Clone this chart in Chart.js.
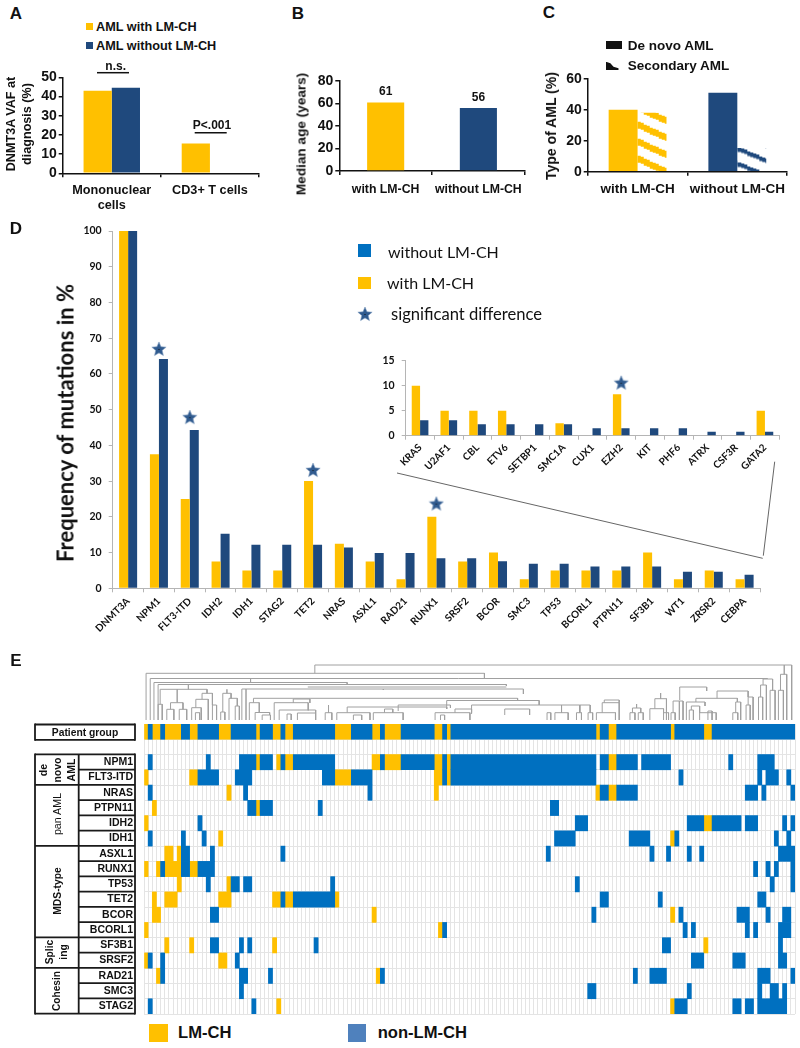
<!DOCTYPE html>
<html>
<head>
<meta charset="utf-8">
<title>LM-CH figure</title>
<script src="https://cdn.jsdelivr.net/npm/chart.js@4"></script>
<style>
  html, body { margin: 0; padding: 0; background: #fff; }
  #page { position: relative; width: 800px; height: 1048px; overflow: hidden; }
  #page canvas { position: absolute; }
  .txt { position: absolute; white-space: nowrap; color: #111; line-height: 1; }
  .box { position: absolute; }
  #overlay { position: absolute; left: 0; top: 0; }
</style>
</head>
<body>
<div id="page">
  <svg id="overlay" width="800" height="1048"></svg>
</div>
<script>
const ORANGE = '#FFC000'
const NAVY = '#1F497D'
const BLUE = '#0070C0'
const ARIAL = '"Liberation Sans"'
const LATO = 'Lato'

// panel A
const vafCats = [['Mononuclear', 'cells'], 'CD3+ T cells']
const vafWith = [43, 15.5]
const vafWithout = [44.6, null]
// panel B
const ageCats = ['with LM-CH', 'without LM-CH']
const ageVals = [61, 56]
// panel C
const typeCats = ['with LM-CH', 'without LM-CH']
const typeDeNovo = [40, 51]
const typeSecondary = [38, 15.3]
// panel D main
const geneCats = ['DNMT3A','NPM1','FLT3-ITD','IDH2','IDH1','STAG2','TET2','NRAS','ASXL1','RAD21','RUNX1','SRSF2','BCOR','SMC3','TP53','BCORL1','PTPN11','SF3B1','WT1','ZRSR2','CEBPA']
const geneWith = [100,37.5,25,7.5,5,5,30,12.5,7.5,2.5,20,7.5,10,2.5,5,5,5,10,2.5,5,2.5]
const geneWithout = [100,64.2,44.3,15.3,12.2,12.2,12.2,11.4,9.9,9.9,8.4,8.4,7.6,6.9,6.9,6.1,6.1,6.1,4.6,4.6,3.8]
const geneStars = [null,67,47.9,null,null,null,33.1,null,null,null,23.7,null,null,null,null,null,null,null,null,null,null]
// panel D inset
const insetCats = ['KRAS','U2AF1','CBL','ETV6','SETBP1','SMC1A','CUX1','EZH2','KIT','PHF6','ATRX','CSF3R','GATA2']
const insetWith = [10,5,5,5,null,2.5,null,8.3,null,null,null,null,5]
const insetWithout = [3.1,3.1,2.3,2.3,2.3,2.3,1.5,1.5,1.5,1.5,0.8,0.8,0.8]
const insetStars = [null,null,null,null,null,null,null,10.6,null,null,null,null,null]

// panel E, runs of patients [from, to] per row
const groupBlue = [[1,2],[4,5],[9,11],[13,18],[21,27],[28,31],[33,34],[36,46],[50,55],[57,58],[62,70],[72,73],[74,109],[110,112],[114,127],[128,135],[137,157]]
const groupOrange = [[0,1],[2,4],[5,9],[11,13],[18,21],[27,28],[31,33],[34,36],[46,50],[55,57],[58,62],[70,72],[73,74],[109,110],[112,114],[127,128],[135,137]]
const npm1Blue = [[1,2],[15,16],[23,27],[28,31],[33,34],[36,46],[57,58],[62,70],[72,73],[74,109],[110,112],[114,119],[120,127],[141,142],[148,152]]
const npm1Orange = [[27,28],[32,33],[34,36],[55,57],[58,62],[70,72],[73,74],[112,114]]
const flt3Blue = [[13,18],[22,26],[43,46],[50,55],[72,73],[74,109],[129,130],[148,149],[150,153],[155,156]]
const flt3Orange = [[0,1],[11,13],[46,50],[70,72],[73,74]]
const nrasBlue = [[1,2],[24,25],[54,55],[110,112],[114,119],[145,148],[149,150],[156,157]]
const nrasOrange = [[20,21],[70,71],[109,110],[112,114]]
const ptpn11Blue = [[25,27],[28,31],[42,43],[98,100]]
const ptpn11Orange = [[2,3],[27,28]]
const idh2Blue = [[13,14],[104,107],[131,135],[137,144],[145,148],[154,155],[156,157]]
const idh2Orange = [[0,1],[135,137]]
const idh1Blue = [[1,2],[9,10],[14,15],[99,104],[117,122],[128,129],[152,153],[155,156]]
const idh1Orange = [[18,19],[127,128]]
const asxl1Blue = [[9,11],[16,17],[33,34],[97,98],[122,123],[126,127],[131,132],[134,135],[153,157]]
const asxl1Orange = [[5,7],[8,9]]
const runx1Blue = [[4,5],[9,11],[13,17],[147,148],[150,151],[152,153],[156,157]]
const runx1Orange = [[0,1],[3,4],[5,9],[11,13]]
const tp53Blue = [[15,16],[21,23],[24,26],[45,46],[104,105],[151,152],[156,157]]
const tp53Orange = [[8,9],[20,21]]
const tet2Blue = [[33,34],[36,46],[110,112],[124,125],[148,150]]
const tet2Orange = [[2,3],[5,8],[18,21],[31,33],[34,36],[46,47]]
const bcorBlue = [[16,18],[108,109],[129,130],[143,146],[150,151],[154,156]]
const bcorOrange = [[2,4],[55,56],[127,128]]
const bcorl1Blue = [[72,73],[130,131],[132,133],[145,146],[147,148],[153,156]]
const bcorl1Orange = [[0,1],[71,72]]
const sf3b1Blue = [[16,18],[23,24],[25,26],[41,42],[125,127],[153,154]]
const sf3b1Orange = [[5,6],[11,12],[31,32],[135,136]]
const srsf2Blue = [[1,2],[4,5],[22,23],[132,135],[142,145],[153,155]]
const srsf2Orange = [[0,1],[18,20]]
const rad21Blue = [[4,5],[23,25],[30,31],[57,58],[118,119],[122,126],[148,151],[156,157]]
const rad21Orange = [[3,4],[56,57]]
const smc3Blue = [[23,24],[107,109],[131,132],[148,149],[151,153],[154,155]]
const smc3Orange = []
const stag2Blue = [[1,2],[26,27],[128,131],[142,144],[145,147],[148,155]]
const stag2Orange = [[32,33],[127,128]]

const heatRows = [
  ['Patient group', groupBlue, groupOrange],
  [' ', [], []],
  ['NPM1', npm1Blue, npm1Orange],
  ['FLT3-ITD', flt3Blue, flt3Orange],
  ['NRAS', nrasBlue, nrasOrange],
  ['PTPN11', ptpn11Blue, ptpn11Orange],
  ['IDH2', idh2Blue, idh2Orange],
  ['IDH1', idh1Blue, idh1Orange],
  ['ASXL1', asxl1Blue, asxl1Orange],
  ['RUNX1', runx1Blue, runx1Orange],
  ['TP53', tp53Blue, tp53Orange],
  ['TET2', tet2Blue, tet2Orange],
  ['BCOR', bcorBlue, bcorOrange],
  ['BCORL1', bcorl1Blue, bcorl1Orange],
  ['SF3B1', sf3b1Blue, sf3b1Orange],
  ['SRSF2', srsf2Blue, srsf2Orange],
  ['RAD21', rad21Blue, rad21Orange],
  ['SMC3', smc3Blue, smc3Orange],
  ['STAG2', stag2Blue, stag2Orange]
]
const patientCount = 157

// dendrogram: [left patient, right patient, merge height, left leg end, right leg end]
const dendroMerges = [
  [41.2,156.2,55,46.7,0],[154.4,154.4,55,45.7,45.7],[0.5,82.1,46.7,0,41.5],[1.5,150.3,41.5,0,41],
  [2.4,49,37.5,0,36],[25.7,25.7,41.5,37.5,37.5],[3.4,87.4,35.5,0,34],[10.7,10.7,35.5,30.7,30.7],
  [39.5,87.4,33,33,33],[23.6,91.5,31,0,26],[24.6,24.6,31,0,0],[57.7,57.7,31,30,30],
  [3.9,15.2,30.7,15.7,26.7],[3.4,4.4,15.7,0,0],[5.5,7.2,10.7,0,0],[8.5,10.3,10.7,0,0],
  [6.4,9.4,17.3,10.7,10.7],[8,8,30.7,17.3,17.3],[11.5,13.8,12.3,0,0],[12.5,15.5,20.7,12.3,0],
  [14,16.5,26.7,20.7,15],[16.5,17.5,15,0,0],[12.4,13.4,7.3,0,0],[19,21,26.7,8,21.7],[18.5,19.5,8,0,0],
  [20.5,22.5,21.7,0,14],[22,23,14,0,0],[20,20,30.7,26.7,26.7],[26.4,90.1,21.7,17.3,20],
  [25.4,27.8,17.3,0,7.5],[26.8,30.3,7.5,0,5],[28.5,30.5,5,0,0],[31.4,39.6,17.3,0,9.7],
  [32.6,41.4,10,0,7],[37,41.4,7,0,0],[34.5,35.5,6,0,0],[36,40,21,17,17],[43.7,45.3,7.3,0,0],[44.5,44.5,15,7.3,7.3],
  [46.5,54.5,7.3,0,0],[49,73,13,7.3,11],[50.5,52.5,5,0,0],[55.3,62.5,7.3,0,0],[58,60,11,7.3,7.3],
  [61.3,73.9,15,9,12],[70.2,78.6,7.3,0,0],[71.5,72.5,5,0,0],[75,79,11,7.3,7.3],[73,95.3,19.5,11,15],[79,105.1,15,6,7.3],
  [87,93,11,5,5],[97.2,98.1,7.3,0,0],[99.1,102.3,7.3,0,0],[100.7,100.7,15,7.3,7.3],[104.3,105.5,7.3,0,0],
  [107.1,108.2,7.3,0,0],[105.1,107.6,15,7.3,7.3],[109.1,113.7,7.3,0,0],[110.5,114.6,17.3,7.3,0],[111,114.6,20,17.3,17.3],
  [117.2,118.4,7.3,0,0],[119.2,120.4,7.3,0,0],[117.8,119.8,12,7.3,7.3],[118.8,118.8,16,12,12],[122,125.3,11.3,0,7.3],
  [123.2,126,21.3,11.3,0],[124.6,124.6,27,21.3,21.3],[125.3,126.5,7.3,0,0],[127.6,130,19,7.3,0],[127.1,128.1,7.3,0,0],[129.2,135.7,33,20,29],
  [129.1,129.1,19,0,0],[138.2,145.7,29,21.7,23],[133.1,143.1,21.7,18,18],[130.8,135.3,18,0,14],[132,134,14,10,7.3],
  [131.5,132.5,10,0,0],[134,138,7.3,0,0],[136,137,9,0,0],[142.7,143.9,18,7.3,0],[142,143.2,7.3,0,0],[145.7,146.9,23,15,0],[145.2,146.2,15,0,0],
  [148.7,150.1,35,23,0],[148.2,149.2,23,0,0],[149.3,151.6,41,35,29.7],[151,152.2,29.7,0,0],[153,154.2,29.7,0,0],[153.5,155,45.7,29.7,0]
]

const page = document.getElementById('page')
const overlay = document.getElementById('overlay')

function addText(str, x, y, size, opts) {
  opts = opts || {}
  const el = document.createElement('div')
  el.className = 'txt'
  el.textContent = str
  el.style.left = x + 'px'
  el.style.top = y + 'px'
  el.style.font = (opts.weight || 'bold') + ' ' + size + 'px ' + (opts.family || ARIAL)
  const ax = opts.anchor === 'left' ? '0' : '-50%'
  el.style.transform = 'translate(' + ax + ',-50%)' + (opts.rot ? ' rotate(' + opts.rot + 'deg)' : '')
  page.appendChild(el)
  return el
}
function addBox(x, y, w, h, color) {
  const el = document.createElement('div')
  el.className = 'box'
  el.style.cssText = 'left:' + x + 'px;top:' + y + 'px;width:' + w + 'px;height:' + h + 'px;background:' + color
  page.appendChild(el)
  return el
}
function addLine(x1, y1, x2, y2, color, width) {
  const l = document.createElementNS('http://www.w3.org/2000/svg', 'line')
  l.setAttribute('x1', x1); l.setAttribute('y1', y1)
  l.setAttribute('x2', x2); l.setAttribute('y2', y2)
  l.setAttribute('stroke', color); l.setAttribute('stroke-width', width)
  overlay.appendChild(l)
}
function addCanvas(left, top, w, h) {
  const c = document.createElement('canvas')
  c.width = w; c.height = h
  c.style.left = left + 'px'; c.style.top = top + 'px'
  c.style.width = w + 'px'; c.style.height = h + 'px'
  page.appendChild(c)
  return c
}
function makeStar(size) {
  const c = document.createElement('canvas')
  c.width = size; c.height = size
  const g = c.getContext('2d')
  const r = size / 2 - 0.5
  g.beginPath()
  for (let i = 0; i < 10; i++) {
    const rad = i % 2 ? r * 0.45 : r
    const a = -Math.PI / 2 + i * Math.PI / 5
    const px = size / 2 + rad * Math.cos(a), py = size / 2 + 0.5 + rad * Math.sin(a)
    if (i) g.lineTo(px, py); else g.moveTo(px, py)
  }
  g.closePath()
  g.fillStyle = '#2F5A8E'
  g.fill()
  g.strokeStyle = '#7f9cc0'
  g.lineWidth = 0.6
  g.stroke()
  g.fillStyle = '#111'
  g.fillRect(size / 2 - 0.5, size / 2, 1, 1)
  return c
}
function hatch(ctx, color, tileW, tileH, thick, originX, originY) {
  const t = document.createElement('canvas')
  t.width = tileW; t.height = tileH
  const g = t.getContext('2d')
  g.fillStyle = color
  for (let x = 0; x < tileW; x += 3) {
    const y = Math.round(x * tileH / tileW)
    g.fillRect(x, y, 3, thick)
    g.fillRect(x, y - tileH, 3, thick)
  }
  const p = ctx.createPattern(t, 'repeat')
  p.setTransform(new DOMMatrix().translate(originX, originY))
  return p
}

// bar panel with its plot area pinned to page coordinates
function barPanel(box, plot, labels, datasets, yMax, yStep, style, plugins) {
  const canvas = addCanvas(box.l, box.t, box.w, box.h)
  return new Chart(canvas, {
    type: 'bar',
    data: { labels: labels, datasets: datasets },
    plugins: plugins || [],
    options: {
      responsive: false,
      animation: false,
      devicePixelRatio: 1,
      layout: { padding: { top: plot.t - box.t, right: box.l + box.w - plot.r, left: 0, bottom: 0 } },
      plugins: { legend: { display: false }, tooltip: { enabled: false } },
      scales: {
        x: {
          offset: true,
          grid: { offset: true, drawOnChartArea: false, color: style.axis, lineWidth: style.lw, tickLength: 4 },
          border: { color: style.axis, width: style.lw },
          ticks: {
            autoSkip: false,
            color: '#111',
            font: { family: style.family, weight: 'bold', size: style.xSize, lineHeight: 1.18 },
            padding: style.xPad,
            maxRotation: style.rot,
            minRotation: style.rot
          },
          afterFit: function (a) { a.height = box.t + box.h - plot.b }
        },
        y: {
          min: 0,
          max: yMax,
          grid: { drawOnChartArea: false, color: style.axis, lineWidth: style.lw, tickLength: 4 },
          border: { color: style.axis, width: style.lw },
          ticks: {
            autoSkip: false,
            stepSize: yStep,
            color: '#111',
            font: { family: style.family, weight: 'bold', size: style.ySize },
            padding: style.yPad
          },
          afterFit: function (a) { a.width = plot.l - box.l; a.paddingTop = 0; a.paddingBottom = 0 }
        }
      }
    }
  })
}

const blackAxis = { axis: '#111', lw: 1.5, family: ARIAL, rot: 0, yPad: 2 }

// A
barPanel({ l: 0, t: 60, w: 262, h: 152 }, { l: 62.7, t: 77.3, r: 259, b: 173.3 }, vafCats, [
  { data: vafWith, backgroundColor: ORANGE, categoryPercentage: 0.575, barPercentage: 1 },
  { data: vafWithout, backgroundColor: NAVY, categoryPercentage: 0.575, barPercentage: 1 }
], 50, 10, Object.assign({}, blackAxis, { xSize: 12.7, ySize: 14, xPad: 6 }))
addText('A', 16, 14, 17)
addBox(86, 23, 7, 7, ORANGE)
addBox(86, 42, 7, 7, NAVY)
addText('AML with LM-CH', 96, 26.7, 12.7, { anchor: 'left' })
addText('AML without LM-CH', 96, 45.7, 12.7, { anchor: 'left' })
addText('DNMT3A VAF at', 11, 124, 12.6, { rot: -90 })
addText('diagnosis (%)', 27, 124, 12.6, { rot: -90 })
addText('n.s.', 115.7, 65.7, 12)
addLine(97, 72.7, 129, 72.7, '#111', 1.5)
addText('P<.001', 212, 125, 12)
addLine(194.7, 132.7, 226.7, 132.7, '#111', 1.5)

// B
const ageValueLabels = {
  id: 'ageValueLabels',
  afterDatasetsDraw: function (chart) {
    const g = chart.ctx
    g.save()
    g.font = 'bold 12px ' + ARIAL
    g.fillStyle = '#111'
    g.textAlign = 'center'
    g.textBaseline = 'middle'
    chart.getDatasetMeta(0).data.forEach(function (bar, i) {
      g.fillText(String(ageVals[i]), bar.x, bar.y - 10.5)
    })
    g.restore()
  }
}
barPanel({ l: 290, t: 60, w: 240, h: 150 }, { l: 339.3, t: 81, r: 525, b: 171 }, ageCats, [
  { data: ageVals, backgroundColor: [ORANGE, NAVY], categoryPercentage: 0.4, barPercentage: 1 }
], 80, 20, Object.assign({}, blackAxis, { xSize: 12.3, ySize: 14, xPad: 7 }), [ageValueLabels])
addText('B', 298, 14, 17)
addText('Median age (years)', 301, 134, 13.6, { rot: -90 })

// C
const cCanvasProbe = document.createElement('canvas').getContext('2d')
const orangeHatch = hatch(cCanvasProbe, ORANGE, 37, 17, 7, 637.7 - 530, 121.7 - 60)
const navyHatch = hatch(cCanvasProbe, NAVY, 37, 15, 4.5, 738.3 - 530, 147.5 - 60)
barPanel({ l: 530, t: 60, w: 262, h: 150 }, { l: 587.7, t: 78.7, r: 787.7, b: 171.7 }, typeCats, [
  { data: typeDeNovo, backgroundColor: [ORANGE, NAVY], categoryPercentage: 0.58, barPercentage: 1 },
  { data: typeSecondary, backgroundColor: [orangeHatch, navyHatch], categoryPercentage: 0.58, barPercentage: 1 }
], 60, 20, Object.assign({}, blackAxis, { xSize: 13.5, ySize: 14, xPad: 6 }))
addText('C', 549, 13, 17)
addBox(606, 41, 16.3, 8.3, '#111')
addBox(606, 61.7, 12.5, 8.3, '#111').style.clipPath = 'polygon(0 0,35% 20%,60% 60%,100% 80%,100% 100%,0 100%)'
addText('De novo AML', 627.7, 44.7, 13.5, { anchor: 'left' })
addText('Secondary AML', 627.7, 64.7, 13.5, { anchor: 'left' })
addText('Type of AML (%)', 551, 126, 14, { rot: -90 })

// D
const bigStar = makeStar(16)
const grayAxis = { axis: '#b5b5b5', lw: 1, family: LATO, rot: 45, yPad: 7 }
barPanel({ l: 0, t: 222, w: 800, h: 424 }, { l: 112.7, t: 231, r: 760, b: 588.3 }, geneCats, [
  { type: 'line', data: geneStars, showLine: false, pointStyle: bigStar, pointRadius: 8 },
  { data: geneWith, backgroundColor: ORANGE, categoryPercentage: 0.585, barPercentage: 1 },
  { data: geneWithout, backgroundColor: NAVY, categoryPercentage: 0.585, barPercentage: 1 }
], 100, 10, Object.assign({}, grayAxis, { xSize: 10, ySize: 10.5, xPad: 3 }))
addText('D', 16, 229, 17)
addText('Frequency  of mutations in %', 65, 423, 22, { rot: -90, family: LATO })
addBox(358.3, 244.3, 12.7, 13, BLUE)
addBox(358.3, 276.7, 12.7, 12.5, ORANGE)
addText('without LM-CH', 388, 251, 16, { anchor: 'left', weight: 'normal', family: LATO })
addText('with LM-CH', 387, 281.7, 16, { anchor: 'left', weight: 'normal', family: LATO })
addText('significant difference', 391, 314, 16.6, { anchor: 'left', weight: 'normal', family: LATO })
const legendStar = makeStar(16)
legendStar.style.left = '356.7px'
legendStar.style.top = '306px'
page.appendChild(legendStar)

// inset
barPanel({ l: 370, t: 350, w: 420, h: 126 }, { l: 405.7, t: 360.7, r: 779.3, b: 435.7 }, insetCats, [
  { type: 'line', data: insetStars, showLine: false, pointStyle: bigStar, pointRadius: 8 },
  { data: insetWith, backgroundColor: ORANGE, categoryPercentage: 0.58, barPercentage: 1 },
  { data: insetWithout, backgroundColor: NAVY, categoryPercentage: 0.58, barPercentage: 1 }
], 15, 5, Object.assign({}, grayAxis, { xSize: 10, ySize: 10.5, xPad: 2, yPad: 7 }))
addLine(397, 473, 762.7, 558.3, '#666', 1)
addLine(774.7, 461.7, 763.3, 555.7, '#666', 1)

// E dendrogram
const dendroPoints = []
dendroMerges.forEach(function (m) {
  dendroPoints.push({ x: m[0], y: m[3] }, { x: m[0], y: m[2] }, { x: m[1], y: m[2] }, { x: m[1], y: m[4] }, { x: null, y: null })
})
new Chart(addCanvas(144, 660, 651, 60), {
  type: 'scatter',
  data: { datasets: [{ data: dendroPoints, showLine: true, spanGaps: false, borderColor: '#a0a0a0', borderWidth: 1, pointRadius: 0, clip: false }] },
  options: {
    responsive: false,
    animation: false,
    devicePixelRatio: 1,
    plugins: { legend: { display: false }, tooltip: { enabled: false } },
    scales: {
      x: { type: 'linear', display: false, min: 0, max: patientCount },
      y: { type: 'linear', display: false, min: 0, max: 60 }
    }
  }
})

// E heat map, floating bars on a patient axis
const heatLabels = heatRows.map(function (r) { return r[0] })
const blueCells = []
const orangeCells = []
heatRows.forEach(function (r) {
  r[1].forEach(function (run) { blueCells.push({ x: run, y: r[0] }) })
  r[2].forEach(function (run) { orangeCells.push({ x: run, y: r[0] }) })
})
new Chart(addCanvas(0, 720, 800, 298), {
  type: 'bar',
  data: {
    labels: heatLabels,
    datasets: [
      { data: blueCells, backgroundColor: BLUE, grouped: false, categoryPercentage: 1, barPercentage: 1 },
      { data: orangeCells, backgroundColor: ORANGE, grouped: false, categoryPercentage: 1, barPercentage: 1 }
    ]
  },
  options: {
    indexAxis: 'y',
    responsive: false,
    animation: false,
    devicePixelRatio: 1,
    layout: { padding: { top: 4, right: 5, left: 0, bottom: 4 } },
    plugins: { legend: { display: false }, tooltip: { enabled: false } },
    scales: {
      x: {
        type: 'linear',
        min: 0,
        max: patientCount,
        grid: { color: '#e4e4e4', drawTicks: false },
        border: { display: false },
        ticks: { display: false, stepSize: 1, autoSkip: false },
        afterFit: function (a) { a.height = 0 }
      },
      y: {
        type: 'category',
        grid: { color: '#e4e4e4', drawTicks: false, offset: true },
        border: { display: false },
        ticks: {
          autoSkip: false,
          color: '#111',
          padding: 11,
          font: { family: ARIAL, weight: 'bold', size: 10.5 },
          callback: function (v, i) { return i < 2 ? '' : this.getLabelForValue(v) }
        },
        afterFit: function (a) { a.width = 144; a.paddingTop = 0; a.paddingBottom = 0 }
      }
    }
  }
})

// E table frame
const tableLeft = 35, tableMid = 78.7, tableRight = 135, rowTop = 754.3, rowH = 15.26
const frame = '#1a1a1a'
addText('E', 16, 661, 17)
addText('Patient group', 85, 731.8, 10.3)
;[[35, 135, 724.5], [35, 135, 739.8]].forEach(function (l) { addLine(l[0], l[2], l[1], l[2], frame, 1.8) })
addLine(tableLeft, 723.6, tableLeft, 740.7, frame, 1.8)
addLine(tableRight, 723.6, tableRight, 740.7, frame, 1.8)
for (let i = 0; i <= 17; i++) {
  const major = i === 0 || i === 2 || i === 6 || i === 12 || i === 14 || i === 17
  addLine(major ? tableLeft : tableMid, rowTop + i * rowH, tableRight, rowTop + i * rowH, frame, 1.8)
}
addLine(tableLeft, rowTop - 0.9, tableLeft, rowTop + 17 * rowH + 0.9, frame, 1.8)
addLine(tableMid, rowTop, tableMid, rowTop + 17 * rowH, frame, 1.8)
addLine(tableRight, rowTop - 0.9, tableRight, rowTop + 17 * rowH + 0.9, frame, 1.8)
addText('de', 43, 769.7, 10.5, { rot: -90 })
addText('novo', 57, 769.7, 10.5, { rot: -90 })
addText('AML', 71, 769.7, 10.5, { rot: -90 })
addText('pan AML', 56.7, 814, 10.7, { rot: -90, weight: 'normal' })
addText('MDS-type', 56.7, 890.7, 10.3, { rot: -90 })
addText('Splic', 49, 952, 10.3, { rot: -90 })
addText('ing', 63.3, 952, 10.3, { rot: -90 })
addText('Cohesin', 56, 990.7, 10.2, { rot: -90 })

addBox(149, 1023.7, 18.7, 18.6, ORANGE)
addBox(347.7, 1023.7, 18.6, 18.6, '#4F81BD')
addText('LM-CH', 178, 1033, 16.6, { anchor: 'left' })
addText('non-LM-CH', 377.7, 1033, 16.6, { anchor: 'left' })
</script>
</body>
</html>
